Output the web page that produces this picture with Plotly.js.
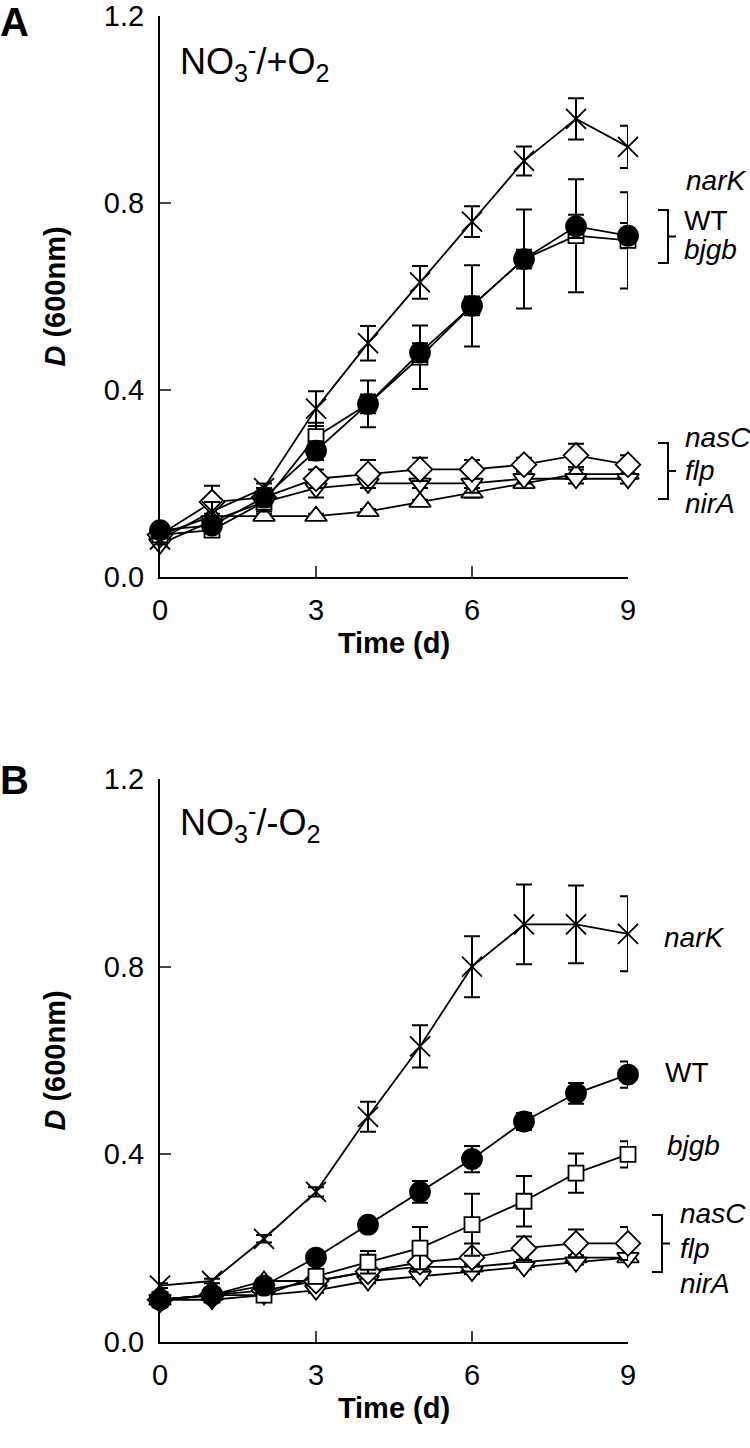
<!DOCTYPE html>
<html>
<head>
<meta charset="utf-8">
<script src="https://cdn.plot.ly/plotly-3.0.1.min.js"></script>
<style>
  html, body { margin: 0; padding: 0; background: #fff; }
  #plot { width: 750px; height: 1448px; }
</style>
</head>
<body>
<div id="plot"></div>
<script>
// Growth curves (D600) of B. japonicum strains, panel A: NO3-/+O2, panel B: NO3-/-O2

const days = [0, 1, 2, 3, 4, 5, 6, 7, 8, 9];
const strains = ["nirA", "flp", "nasC", "bjgb", "WT", "narK"];

// Panel A values and SD
const nirA_A = [0.09, 0.13, 0.13, 0.13, 0.14, 0.16, 0.18, 0.20, 0.22, 0.22];
const flp_A  = [0.07, 0.12, 0.16, 0.19, 0.20, 0.20, 0.20, 0.21, 0.21, 0.21];
const nasC_A = [0.09, 0.16, 0.17, 0.21, 0.22, 0.23, 0.23, 0.24, 0.26, 0.24];
const bjgb_A = [0.09, 0.10, 0.16, 0.30, 0.37, 0.47, 0.58, 0.68, 0.73, 0.72];
const WT_A   = [0.10, 0.11, 0.17, 0.27, 0.37, 0.48, 0.58, 0.68, 0.75, 0.73];
const narK_A = [0.08, 0.14, 0.19, 0.36, 0.50, 0.63, 0.76, 0.89, 0.98, 0.92];

const nirA_A_sd = [0.005, 0.005, 0.005, 0.005, 0.005, 0.005, 0.01, 0.01, 0.01, 0.01];
const flp_A_sd  = [0.005, 0.01, 0.01, 0.02, 0.01, 0.01, 0.02, 0.01, 0.01, 0.01];
const nasC_A_sd = [0.005, 0.035, 0.02, 0.02, 0.03, 0.025, 0.02, 0.015, 0.025, 0.02];
const bjgb_A_sd = [0.005, 0.01, 0.02, 0.03, 0.05, 0.068, 0.087, 0.106, 0.121, 0.103];
const WT_A_sd   = [0.005, 0.01, 0.02, 0.02, 0.02, 0.02, 0.02, 0.02, 0.025, 0.027];
const narK_A_sd = [0.01, 0.02, 0.01, 0.037, 0.037, 0.035, 0.033, 0.031, 0.044, 0.045];

// Panel B values and SD
const nirA_B = [0.09, 0.10, 0.13, 0.13, 0.15, 0.16, 0.16, 0.17, 0.18, 0.18];
const flp_B  = [0.09, 0.09, 0.10, 0.11, 0.13, 0.14, 0.15, 0.16, 0.17, 0.18];
const nasC_B = [0.09, 0.10, 0.11, 0.13, 0.15, 0.17, 0.18, 0.20, 0.21, 0.21];
const bjgb_B = [0.09, 0.10, 0.10, 0.14, 0.17, 0.20, 0.25, 0.30, 0.36, 0.40];
const WT_B   = [0.09, 0.10, 0.12, 0.18, 0.25, 0.32, 0.39, 0.47, 0.53, 0.57];
const narK_B = [0.12, 0.13, 0.22, 0.32, 0.48, 0.63, 0.80, 0.89, 0.89, 0.87];

const nirA_B_sd = [0.005, 0.005, 0.005, 0.005, 0.005, 0.005, 0.005, 0.005, 0.005, 0.005];
const flp_B_sd  = [0.005, 0.005, 0.005, 0.005, 0.005, 0.005, 0.005, 0.005, 0.005, 0.005];
const nasC_B_sd = [0.005, 0.005, 0.01, 0.01, 0.015, 0.02, 0.03, 0.025, 0.03, 0.035];
const bjgb_B_sd = [0.005, 0.005, 0.01, 0.015, 0.024, 0.045, 0.066, 0.054, 0.042, 0.028];
const WT_B_sd   = [0.005, 0.005, 0.008, 0.01, 0.012, 0.023, 0.028, 0.018, 0.022, 0.028];
const narK_B_sd = [0.005, 0.005, 0.008, 0.01, 0.032, 0.045, 0.065, 0.085, 0.083, 0.08];

const MARKERS = {
  nirA: { symbol: "triangle-up",   size: 19, color: "#fff" },
  flp:  { symbol: "triangle-down", size: 19, color: "#fff" },
  nasC: { symbol: "diamond",       size: 19, color: "#fff" },
  bjgb: { symbol: "square",        size: 15, color: "#fff" },
  WT:   { symbol: "circle",        size: 20, color: "#000" },
  narK: { symbol: "x-thin",        size: 20, color: "#000" },
};

const FONT = "Liberation Sans, Arial, sans-serif";

const panelA = { nirA: [nirA_A, nirA_A_sd], flp: [flp_A, flp_A_sd], nasC: [nasC_A, nasC_A_sd],
                 bjgb: [bjgb_A, bjgb_A_sd], WT: [WT_A, WT_A_sd], narK: [narK_A, narK_A_sd] };
const panelB = { nirA: [nirA_B, nirA_B_sd], flp: [flp_B, flp_B_sd], nasC: [nasC_B, nasC_B_sd],
                 bjgb: [bjgb_B, bjgb_B_sd], WT: [WT_B, WT_B_sd], narK: [narK_B, narK_B_sd] };

function makeTraces(panel, xa, ya) {
  return strains.map((s) => {
    const m = MARKERS[s];
    return {
      x: days, y: panel[s][0], type: "scatter", mode: "lines+markers", name: s,
      xaxis: xa, yaxis: ya, cliponaxis: false,
      line: { color: "#000", width: 1.8 },
      marker: { symbol: m.symbol, size: m.size, color: m.color,
                line: { color: "#000", width: 1.8 } },
      error_y: { type: "data", array: panel[s][1], visible: true,
                 color: "#000", thickness: 2, width: 8 },
    };
  });
}

// pixel -> paper helpers (plot area 160..628 px wide, 16..1342 px tall)
const px = (x) => (x - 160) / 468;
const py = (y) => (1342 - y) / 1326;

const xAx = {
  range: [0, 9], tickvals: [0, 3, 6, 9], ticks: "inside", ticklen: 11, tickwidth: 2,
  showline: true, linewidth: 2, linecolor: "#000", showgrid: false, zeroline: false,
  tickfont: { size: 29, family: FONT, color: "#000" }, ticklabelstandoff: 6,
};
const yAx = {
  range: [0, 1.2], tickvals: [0, 0.4, 0.8, 1.2], tickformat: ".1f", ticks: "inside",
  ticklen: 11, tickwidth: 2, showline: true, linewidth: 2, linecolor: "#000",
  showgrid: false, zeroline: false, ticklabelstandoff: 8, ticklabeloverflow: "allow",
  tickfont: { size: 29, family: FONT, color: "#000" },
};
const xTitle = { text: "<b>Time (d)</b>", font: { size: 29, family: FONT, color: "#000" }, standoff: 8 };
const yTitle = { text: "<b><i>D</i> (600nm)</b>", font: { size: 29, family: FONT, color: "#000" }, standoff: 30 };

function label(text, x, y, size) {
  return { text, xref: "paper", yref: "paper", x: px(x), y: py(y), xanchor: "left",
           yanchor: "middle", showarrow: false,
           font: { size: size || 28, family: FONT, color: "#000" } };
}

function bracket(xl, y0, y1, tick) {
  const ym = (y0 + y1) / 2;
  return {
    type: "path", xref: "paper", yref: "paper",
    path: `M ${px(xl)} ${py(y0)} H ${px(xl + 10)} V ${py(y1)} H ${px(xl)} ` +
          `M ${px(xl + 10)} ${py(ym)} H ${px(xl + 10 + tick)}`,
    line: { color: "#000", width: 2 },
  };
}

const layout = {
  width: 750, height: 1448,
  paper_bgcolor: "#fff", plot_bgcolor: "#fff",
  font: { family: FONT, color: "#000" },
  showlegend: false,
  margin: { l: 160, r: 122, t: 16, b: 106 },
  xaxis:  { ...xAx, domain: [0, 1], anchor: "y",  title: xTitle },
  yaxis:  { ...yAx, domain: [0.577, 1], anchor: "x", title: yTitle },
  xaxis2: { ...xAx, domain: [0, 1], anchor: "y2", title: xTitle },
  yaxis2: { ...yAx, domain: [0, 0.4246], anchor: "x2", title: yTitle },
  annotations: [
    label("<b>A</b>", -2, 22, 40),
    label("<b>B</b>", -2, 780, 40),
    label("NO<sub>3</sub><sup>-</sup>/+O<sub>2</sub>", 178, 62, 36),
    label("NO<sub>3</sub><sup>-</sup>/-O<sub>2</sub>", 178, 822, 36),
    label("<i>narK</i>", 684, 180),
    label("WT", 682, 220),
    label("<i>bjgb</i>", 682, 249),
    label("<i>nasC</i>", 683, 437),
    label("<i>flp</i>", 683, 470),
    label("<i>nirA</i>", 683, 503),
    label("<i>narK</i>", 662, 937),
    label("WT", 663, 1072),
    label("<i>bjgb</i>", 665, 1145),
    label("<i>nasC</i>", 678, 1213),
    label("<i>flp</i>", 678, 1248),
    label("<i>nirA</i>", 678, 1283),
  ],
  shapes: [
    bracket(658, 210, 263, 8),
    bracket(658, 443, 499, 8),
    bracket(652, 1215, 1272, 8),
  ],
};

Plotly.newPlot("plot",
  [...makeTraces(panelA, "x", "y"), ...makeTraces(panelB, "x2", "y2")],
  layout, { displayModeBar: false, staticPlot: true });
</script>
</body>
</html>
